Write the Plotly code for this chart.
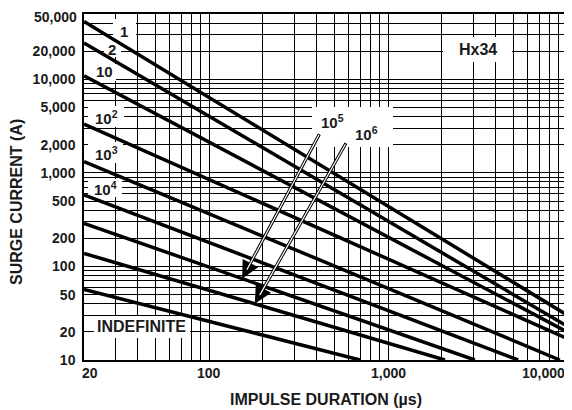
import math
import plotly.graph_objects as go

# ---------------- data ----------------
curve_labels = ["1", "2", "10", "10<sup>2</sup>", "10<sup>3</sup>", "10<sup>4</sup>",
                "10<sup>5</sup>", "10<sup>6</sup>", "INDEFINITE"]
curve_x_start = [20, 20, 20, 20, 20, 20, 20, 20, 20]
curve_y_start = [41600, 24500, 10900, 3330, 1318, 581, 289, 138, 56.9]
curve_x_end = [10000, 10000, 10000, 10000, 9125, 5337, 3056, 2080, 697]
curve_y_end = [30.3, 23.1, 20.0, 17.0, 10, 10, 10, 10, 10]

x_tick_vals = [20, 100, 1000, 10000]
x_tick_text = ["20", "100", "1,000", "10,000"]
y_tick_vals = [10, 20, 50, 100, 200, 500, 1000, 2000, 5000, 10000, 20000, 50000]
y_tick_text = ["10", "20", "50", "100", "200", "500", "1,000", "2,000", "5,000",
               "10,000", "20,000", "50,000"]

# arrow tips (x value on the 10^5 and 10^6 curves)
arrow_curve_index = [6, 7]
arrow_tip_x = [153, 180]

# ---------------- layout geometry ----------------
# page pixel positions below are for the screenshot; the page body adds an 8px offset
OFF = 8
W, H = 572 - OFF, 410 - OFF
PL, PR, PT, PB = 84, 567, 14, 360          # plot area in page pixels
ML, MT = PL - OFF, PT - OFF
MR = (W + OFF) - PR
MB = (H + OFF) - PB
PW, PH = PR - PL, PB - PT
XR = [math.log10(20), 4.0]
YR = [1.0, math.log10(50000)]

FONT = "Liberation Sans, Arial, Helvetica, sans-serif"
INK = "#1a1a1a"
TICKFONT = dict(family=FONT, size=14, color=INK, weight="bold")


def fx(px):
    return (px - PL) / PW


def fy(py):
    return (PB - py) / PH


def dx(px):
    return 10 ** (XR[0] + fx(px) * (XR[1] - XR[0]))


def dy(py):
    return 10 ** (YR[0] + fy(py) * (YR[1] - YR[0]))


# grid values of a log grid
x_grid = [m * 10 ** d for d in range(1, 4) for m in range(1, 10) if m * 10 ** d >= 20] + [10000]
y_grid = [m * 10 ** d for d in range(1, 5) for m in range(1, 10)] + [20000, 30000, 40000, 50000]
y_grid = sorted(set(v for v in y_grid if v <= 50000))
y_text_map = dict(zip(y_tick_vals, y_tick_text))
y_top = max(y_tick_vals)   # top label drawn as annotation so it stays inside the page

fig = go.Figure()

for xs, ys, xe, ye in zip(curve_x_start, curve_y_start, curve_x_end, curve_y_end):
    fig.add_trace(go.Scatter(x=[xs, xe], y=[ys, ye], mode="lines",
                             line=dict(color="black", width=3.5),
                             showlegend=False, hoverinfo="skip"))

# white boxes behind labels (between grid and curves)
boxes = [
    (113, 136, 19, 43), (104, 121, 43, 57), (93, 116, 64, 81),
    (88, 124, 106, 127), (88, 123, 142, 163), (88, 122, 179, 197),
    (312, 393, 107, 147), (443, 512, 37, 62), (94, 190, 316, 338),
]
shapes = []
for x0, x1, y0, y1 in boxes:
    shapes.append(dict(type="rect", xref="x", yref="y",
                       x0=dx(x0), x1=dx(x1), y0=dy(y1), y1=dy(y0),
                       fillcolor="white", line=dict(width=0), layer="between"))


def curve_y_at(i, x):
    lx0, lx1 = math.log10(curve_x_start[i]), math.log10(curve_x_end[i])
    ly0, ly1 = math.log10(curve_y_start[i]), math.log10(curve_y_end[i])
    t = (math.log10(x) - lx0) / (lx1 - lx0)
    return ly0 + t * (ly1 - ly0)


annotations = []

# curve labels
label_pos = [(124, 31), (112, 50), (104, 72), (106, 117), (106, 153), (105, 188),
             (332, 122), (366, 133), (141, 326)]
label_size = [15, 15, 15, 15, 15, 15, 15, 15, 16]
for txt, (px, py), sz in zip(curve_labels, label_pos, label_size):
    annotations.append(dict(text=txt, xref="paper", yref="paper", x=fx(px), y=fy(py),
                            xanchor="center", yanchor="middle", showarrow=False,
                            font=dict(family=FONT, size=sz, color=INK, weight="bold")))

annotations.append(dict(text="Hx34", xref="paper", yref="paper", x=fx(478), y=fy(50),
                        xanchor="center", yanchor="middle", showarrow=False,
                        font=dict(family=FONT, size=16, color=INK, weight="bold")))

# arrows: black outline + white core
arrow_tail_offsets = [(78, -146), (92, -162)]
for ci, tx, (oax, oay) in zip(arrow_curve_index, arrow_tip_x, arrow_tail_offsets):
    ty = curve_y_at(ci, tx)
    base = dict(x=math.log10(tx), y=ty, xref="x", yref="y", ax=oax, ay=oay, text="",
                showarrow=True)
    annotations.append(dict(base, arrowhead=2, arrowsize=1.1, arrowwidth=3.2,
                            arrowcolor="black"))
    annotations.append(dict(base, arrowhead=0, arrowwidth=1.2, arrowcolor="white",
                            standoff=10, startstandoff=1))

# x tick labels
x_anchor = ["left", "center", "center", "right"]
x_shift = [-4, 0, 0, 0]
for v, t, a, s in zip(x_tick_vals, x_tick_text, x_anchor, x_shift):
    annotations.append(dict(text=t, xref="x", yref="paper", x=math.log10(v), y=0,
                            xanchor=a, yanchor="middle", yshift=-13, xshift=s,
                            showarrow=False, font=TICKFONT))

# top y tick label (kept inside the page)
annotations.append(dict(text=y_text_map[y_top], xref="paper", yref="paper",
                        x=0, y=1, xanchor="right", yanchor="top", xshift=-6, yshift=MT,
                        borderpad=0, showarrow=False, font=TICKFONT))

# axis titles
annotations.append(dict(text="IMPULSE DURATION (µs)", xref="paper", yref="paper",
                        x=0.5, y=fy(399), xanchor="center", yanchor="middle",
                        showarrow=False,
                        font=dict(family=FONT, size=16, color=INK, weight="bold")))
annotations.append(dict(text="SURGE CURRENT (A)", xref="paper", yref="paper",
                        x=fx(16), y=fy(202), xanchor="center", yanchor="middle",
                        textangle=-90, showarrow=False,
                        font=dict(family=FONT, size=16, color=INK, weight="bold")))

fig.update_layout(
    width=W, height=H,
    margin=dict(l=ML, r=MR, t=MT, b=MB, autoexpand=False),
    paper_bgcolor="white", plot_bgcolor="white",
    shapes=shapes,
    annotations=annotations,
    xaxis=dict(type="log", range=XR, tickmode="array",
               tickvals=x_grid, ticktext=[""] * len(x_grid), ticks="",
               showgrid=True, gridcolor="black", gridwidth=1.3, zeroline=False,
               showline=True, linecolor="black", linewidth=1.5, mirror=True),
    yaxis=dict(type="log", range=YR, tickmode="array",
               tickvals=y_grid,
               ticktext=[y_text_map.get(v, "") if v != y_top else "" for v in y_grid],
               ticks="", ticklabelstandoff=4,
               tickfont=TICKFONT,
               showgrid=True, gridcolor="black", gridwidth=1.3, zeroline=False,
               showline=True, linecolor="black", linewidth=1.5, mirror=True),
)

fig.write_html("out.html")
